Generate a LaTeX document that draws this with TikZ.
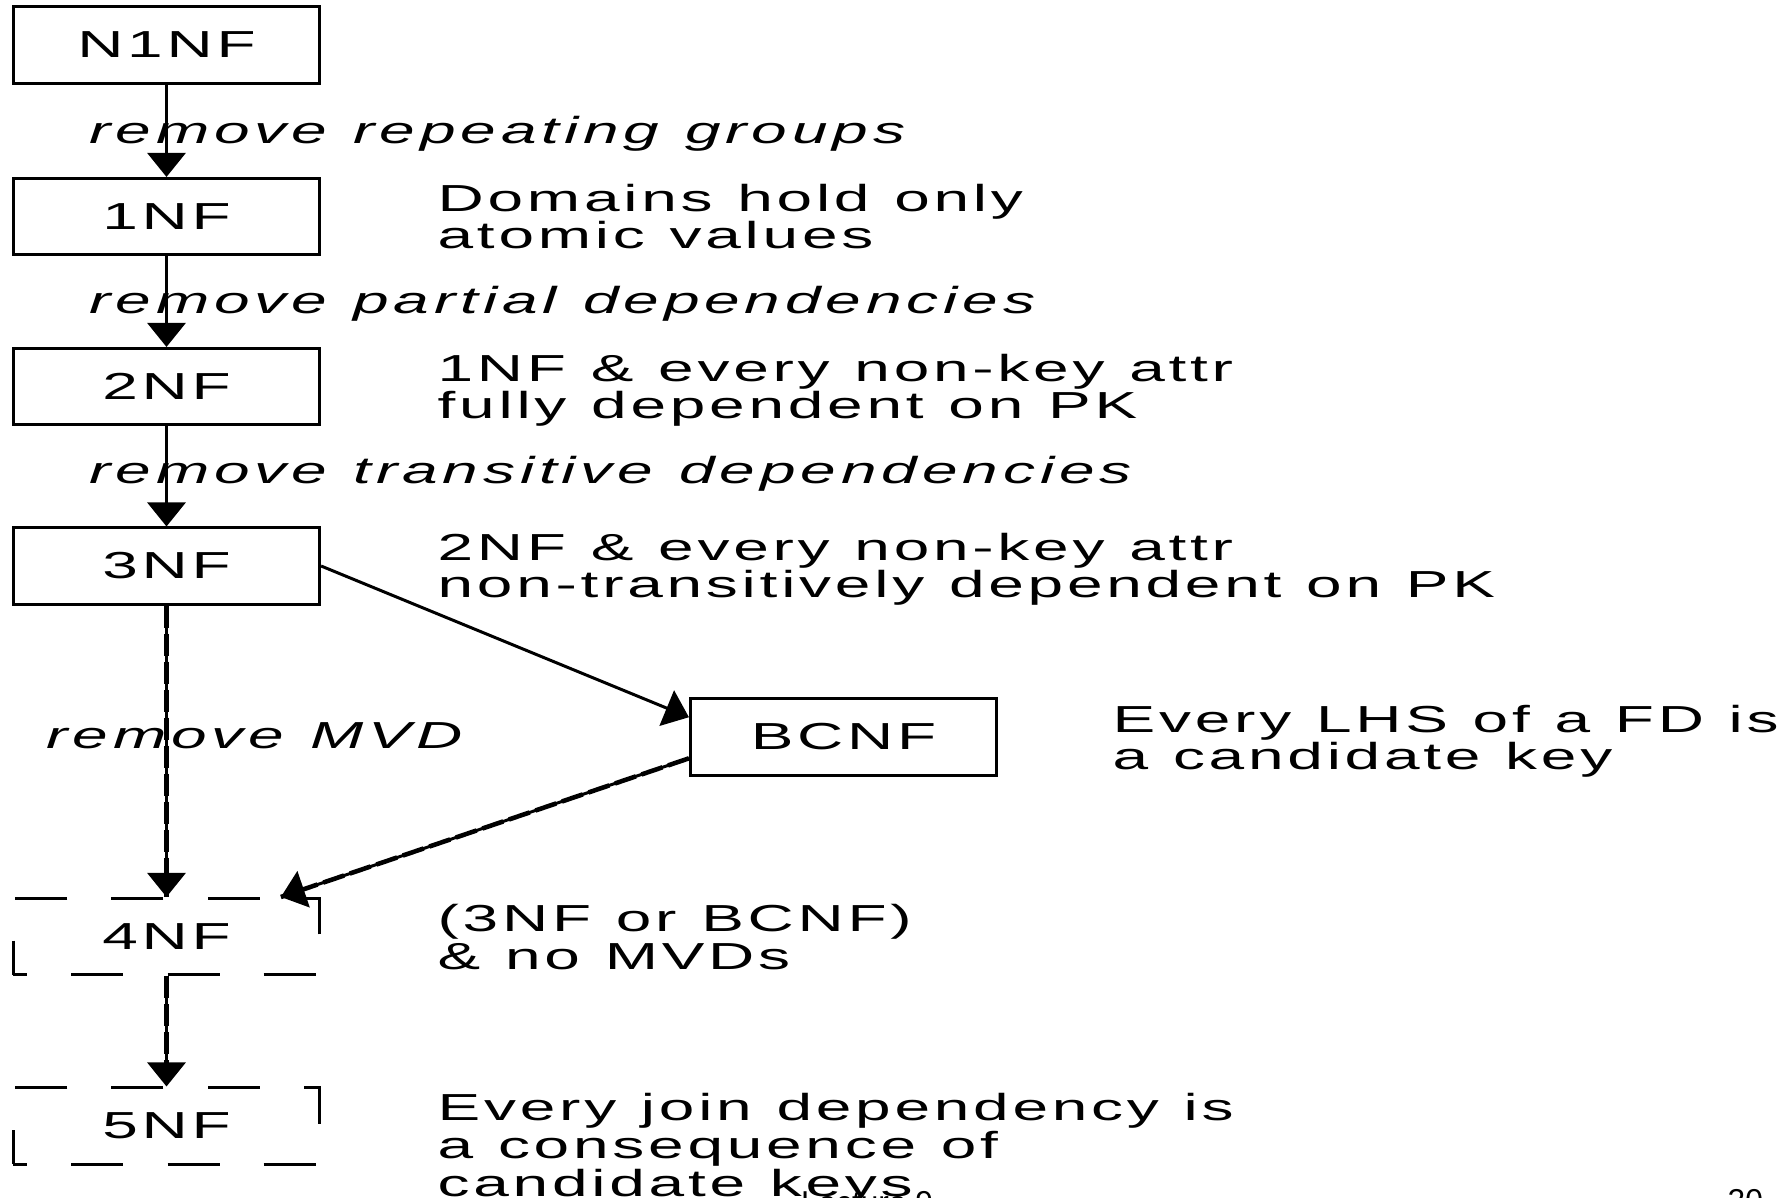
\documentclass[tikz,border=0pt]{standalone}
\usepackage{fontspec}
\setmainfont{Liberation Sans}
\newfontfamily\widefont[FakeStretch=1.7,LetterSpace=10,WordSpace=1.15]{Liberation Sans}
\newfontfamily\wideitfont[FakeStretch=1.7,LetterSpace=13,WordSpace=1.15]{Liberation Sans}
\usetikzlibrary{arrows.meta,calc}
\begin{document}
\begin{tikzpicture}[x=0.01cm,y=-0.01cm,
  txt/.style={font=\widefont\fontsize{10.7pt}{10.8pt}\selectfont},
  nf/.style={txt, draw, line width=0.85pt, minimum width=3.06cm, minimum height=0.76cm, inner sep=0pt},
  nfdash/.style={nf, dash pattern=on 0.52cm off 0.44cm, dash phase=0.38cm},
  desc/.style={txt, anchor=base west, align=left, inner sep=0pt},
  lab/.style={font=\wideitfont\itshape\fontsize{10.7pt}{10.8pt}\selectfont, anchor=base west, inner sep=0pt},
  foot/.style={font=\fontsize{9pt}{9pt}\selectfont, inner sep=0pt},
  arr/.style={-{Triangle[width=0.38cm,length=0.24cm]}, line width=0.85pt},
  darr/.style={arr, postaction={draw, -, line width=1.3pt, dash pattern=on 0.22cm off 0.06cm}}
]
\useasboundingbox (0,0) rectangle (1788,1198);

% boxes
\node[nf] (n1nf) at (166.5,45) {N1NF};
\node[nf] (nf1) at (166.5,216.5) {1NF};
\node[nf] (nf2) at (166.5,386.5) {2NF};
\node[nf] (nf3) at (166.5,566) {3NF};
\node[nf] (bcnf) at (843.5,737) {BCNF};
\node[nfdash] (nf4) at (166.5,936.5) {4NF};
\node[nfdash] (nf5) at (166.5,1126) {5NF};

% step labels
\node[lab] (l1) at (89,144) {remove repeating groups};
\node[lab] (l2) at (89,314) {remove partial dependencies};
\node[lab] (l3) at (89,484) {remove transitive dependencies};
\node[lab] (l4) at (46,749) {remove MVD};

% descriptions (anchored at the baseline of the last line)
\node[desc] (d1) at (437,249) {Domains hold only\\atomic values};
\node[desc] (d2) at (437,419) {1NF \& every non-key attr\\fully dependent on PK};
\node[desc] (d3) at (437,598) {2NF \& every non-key attr\\non-transitively dependent on PK};
\node[desc] (dbc) at (1112,770) {Every LHS of a FD is\\a candidate key};
\node[desc] (d4) at (437,969) {(3NF or BCNF)\\\& no MVDs};
\node[desc] (d5) at (437,1196) {Every join dependency is\\a consequence of\\candidate keys};

% footer
\node[foot, anchor=north] (lec) at (867,1191) {Lecture 9};
\node[foot, anchor=north west] (pg) at (1727,1189) {20};

% connectors
\draw[arr] (n1nf) -- (nf1);
\draw[arr] (nf1) -- (nf2);
\draw[arr] (nf2) -- (nf3);
\draw[arr] (nf3.east) -- ($(bcnf.north west)!0.25!(bcnf.south west)$);
\draw[darr] (nf3) -- (nf4);
\draw[darr] ($(bcnf.north west)!0.77!(bcnf.south west)$) -- ($(nf4.north west)!0.87!(nf4.north east)$);
\draw[darr] (nf4) -- (nf5);
\end{tikzpicture}
\end{document}
